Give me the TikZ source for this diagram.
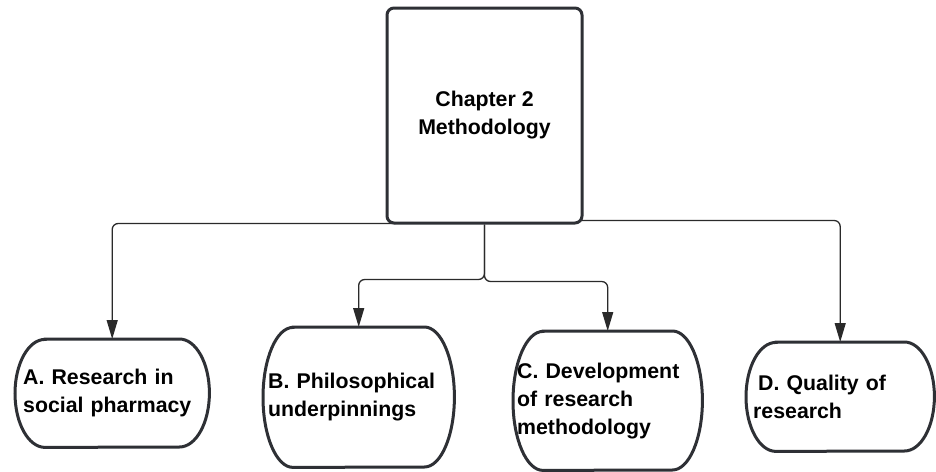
\documentclass[tikz,border=0pt]{standalone}
\usepackage{fontspec}
\setmainfont{Liberation Sans}
\usetikzlibrary{arrows.meta,backgrounds}

\definecolor{edgegray}{HTML}{2E3035}
\definecolor{linegray}{HTML}{2A2A2A}
\newcommand\diagfont{\bfseries\fontsize{21.3}{28}\selectfont}

\tikzset{
  chapterbox/.style={draw=edgegray, line width=3pt, fill=white, rounded corners=7pt,
    minimum width=195pt, minimum height=215pt, inner sep=0pt,
    font=\diagfont, align=center},
  pillnode/.style 2 args={rectangle, anchor=north west, inner ysep=0pt,
    minimum width=#1, minimum height=#2, align=left, font=\diagfont},
  pillline/.style={draw=edgegray, line width=3pt, fill=white},
  conn/.style={draw=linegray, line width=1.3pt, rounded corners=6pt,
    -{Triangle[width=11pt,length=19pt]}},
}

% outline of a pill-shaped box: flat top and bottom, half-elliptic sides
\newcommand\pilloutline[2]{%
  \path[pillline] ([xshift=30pt]#1.north west) -- ([xshift=-30pt]#1.north east)
    arc[start angle=90, end angle=-90, x radius=30pt, y radius=#2]
    -- ([xshift=30pt]#1.south west)
    arc[start angle=270, end angle=90, x radius=30pt, y radius=#2] -- cycle;}

\begin{document}
\begin{tikzpicture}[x=1pt, y=-1pt]
  \useasboundingbox (0,0) rectangle (936,471);

  % section outlines
  \node[pillnode={194pt}{108pt}, inner xsep=8pt, text width=178pt] (A) at (15,339) {};
  \node[pillnode={191pt}{140pt}, inner xsep=5pt, text width=181pt] (B) at (263,327) {};
  \node[pillnode={189pt}{139pt}, inner xsep=4pt, text width=181pt] (C) at (513,331) {};
  \node[pillnode={188pt}{109pt}, inner xsep=7pt, text width=174pt] (D) at (746,342) {};
  \pilloutline{A}{54pt}
  \pilloutline{B}{70pt}
  \pilloutline{C}{69.5pt}
  \pilloutline{D}{54.5pt}

  % section titles
  \node[pillnode={194pt}{108pt}, inner xsep=8pt, text width=178pt] (At) at (15,339)
    {A. Research in\\social pharmacy};
  \node[pillnode={191pt}{140pt}, inner xsep=5pt, text width=181pt] (Bt) at (263,327)
    {B. Philosophical\\underpinnings};
  \node[pillnode={189pt}{139pt}, inner xsep=4pt, text width=181pt] (Ct) at (513,331)
    {C. Development\\of research\\methodology};
  \node[pillnode={188pt}{109pt}, inner xsep=7pt, text width=174pt] (Dt) at (746,342)
    {\hspace*{5pt}D. Quality of\\research};

  % chapter box
  \node[chapterbox] (top) at (484.5,115.5) {Chapter 2\\Methodology};

  \begin{scope}[on background layer]
    \fill[white] (0,0) rectangle (936,471);
    \draw[conn] ([xshift=10pt,yshift=1pt]top.south west) -| (A.north);
    \draw[conn] (top.south) -- ++(0,55) -| (B.north);
    \draw[conn] (top.south) -- ++(0,57) -| (C.north);
    \draw[conn] ([xshift=-10pt,yshift=4pt]top.south east) -| (D.north);
  \end{scope}
\end{tikzpicture}
\end{document}
